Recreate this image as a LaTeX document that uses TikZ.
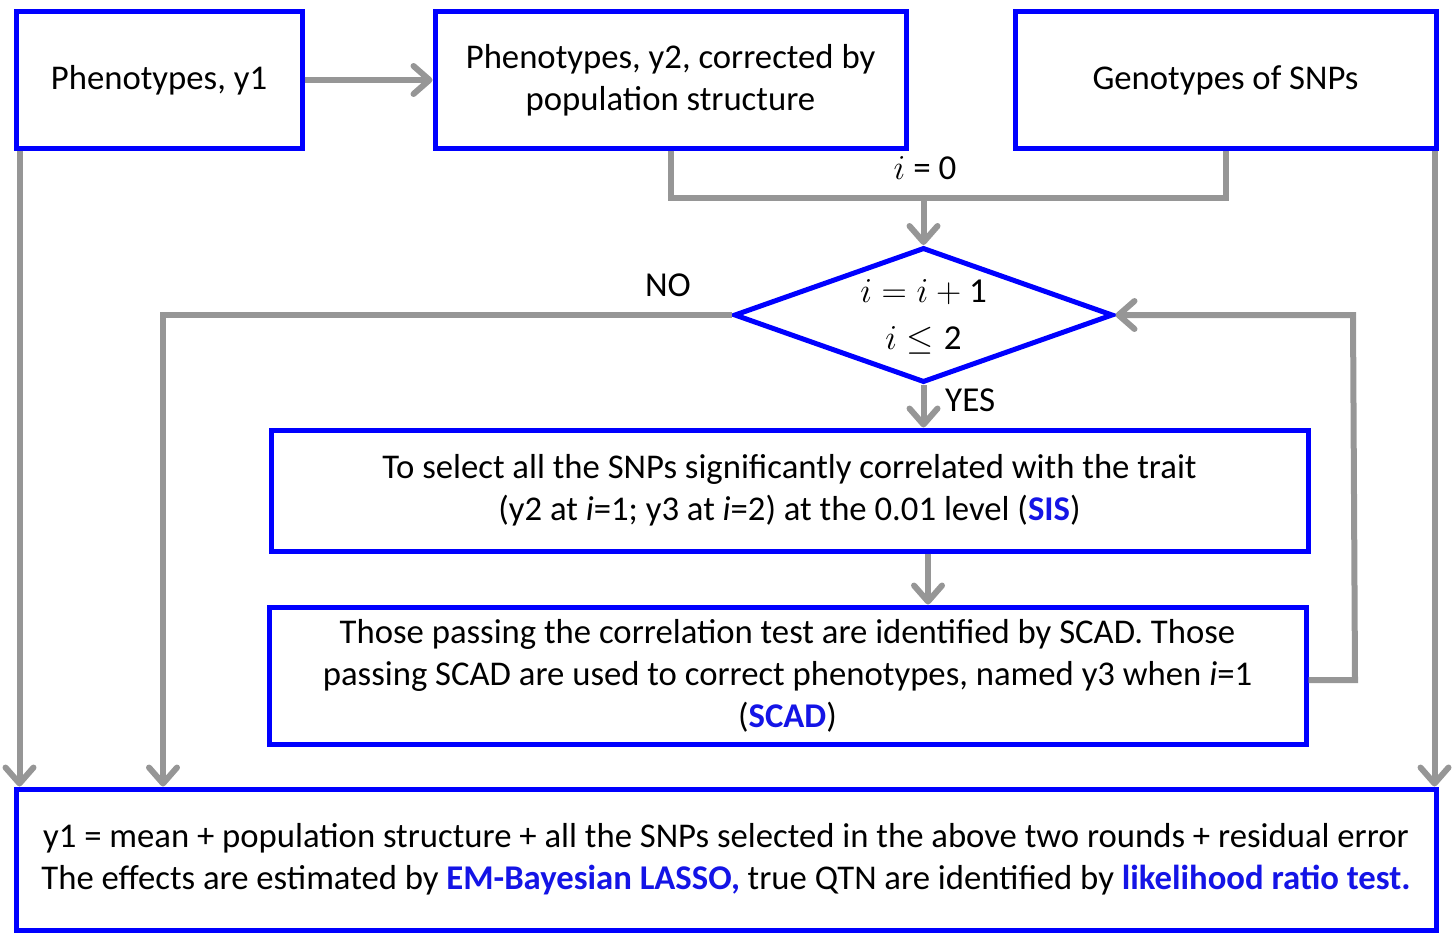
\RequirePackage{fix-cm}
\documentclass[tikz,border=0pt]{standalone}
\usepackage{fontspec}
\setmainfont{Carlito}
\usetikzlibrary{arrows.meta,shapes.geometric}
\definecolor{lgray}{RGB}{150,150,150}
\definecolor{tblue}{RGB}{20,20,230}
\begin{document}
\begin{tikzpicture}[x=1pt,y=-1pt,
  box/.style={draw=blue, line width=5pt, rectangle, inner sep=0pt, align=center,
    font=\fontsize{34.7}{42}\selectfont},
  dia/.style={draw=blue, line width=5pt, diamond, aspect=2.8, inner sep=0pt,
    minimum width=379pt, minimum height=135pt},
  diatext/.style={inner sep=0pt, align=center, font=\fontsize{35}{47}\selectfont},
  conn/.style={draw=lgray, line width=6pt},
  arr/.style={conn, -{Straight Barb[length=16pt,width=28pt,line cap=round,round]}},
  lab/.style={font=\fontsize{35}{40}\selectfont, inner sep=0pt}
]
\useasboundingbox (0,0) rectangle (1453,934);
\node[box, minimum width=286pt, minimum height=136pt] (A) at (159,80) {Phenotypes, y1};
\node[box, minimum width=471pt, minimum height=136pt] (B) at (670.5,80) {Phenotypes, y2, corrected by\\population structure};
\node[box, minimum width=421pt, minimum height=136pt] (C) at (1225.5,80) {Genotypes of SNPs};
\node[dia] (Q) at (923.5,315) {};
\node[diatext] (Qt) at (923.5,317) {$i = i + \mbox{1}$\\$i \leq \mbox{2}$};
\node[box, minimum width=1037pt, minimum height=121pt] (S) at (789.5,490.5) {To select all the SNPs significantly correlated with the trait\\(y2 at \textit{i}=1; y3 at \textit{i}=2) at the 0.01 level (\textbf{\color{tblue}SIS})};
\node[box, minimum width=1037pt, minimum height=137pt] (E) at (787.5,675.5) {Those passing the correlation test are identified by SCAD. Those\\passing SCAD are used to correct phenotypes, named y3 when \textit{i}=1\\(\textbf{\color{tblue}SCAD})};
\node[box, minimum width=1420pt, minimum height=141pt] (F) at (726,859.5) {y1 = mean + population structure + all the SNPs selected in the above two rounds + residual error\\The effects are estimated by \textbf{\color{tblue}EM-Bayesian LASSO,} true QTN are identified by \textbf{\color{tblue}likelihood ratio test.}};

\coordinate (J) at (923.5,198);
\coordinate (L) at (163,315);
\coordinate (R1) at (1355,680);
\coordinate (R2) at (1353,315);
\coordinate (M) at (928,560);

\draw[arr] (A.east) -- (B.west);
\draw[conn] (B.south) |- (J) -| (C.south);
\draw[arr] (J) -- (Q.north);
\node[lab] (i0) at (925,168) {$i$ = 0};
\draw[arr] (Q.west) -- (L) -- (L |- F.north);
\node[lab] (no) at (668,285) {NO};
\draw[arr] (Q.south) -- (Q.south |- S.north);
\node[lab, anchor=west] (yes) at (945,400) {YES};
\draw[arr] (S.south -| M) -- (E.north -| M);
\draw[arr] (E.east |- R1) -- (R1) -- (R2) -- (Q.east);
\draw[arr] ([xshift=6pt]A.south west) -- ([xshift=6pt]A.south west |- F.north);
\draw[arr] ([xshift=-4pt]C.south east) -- ([xshift=-4pt]C.south east |- F.north);
\end{tikzpicture}
\end{document}
